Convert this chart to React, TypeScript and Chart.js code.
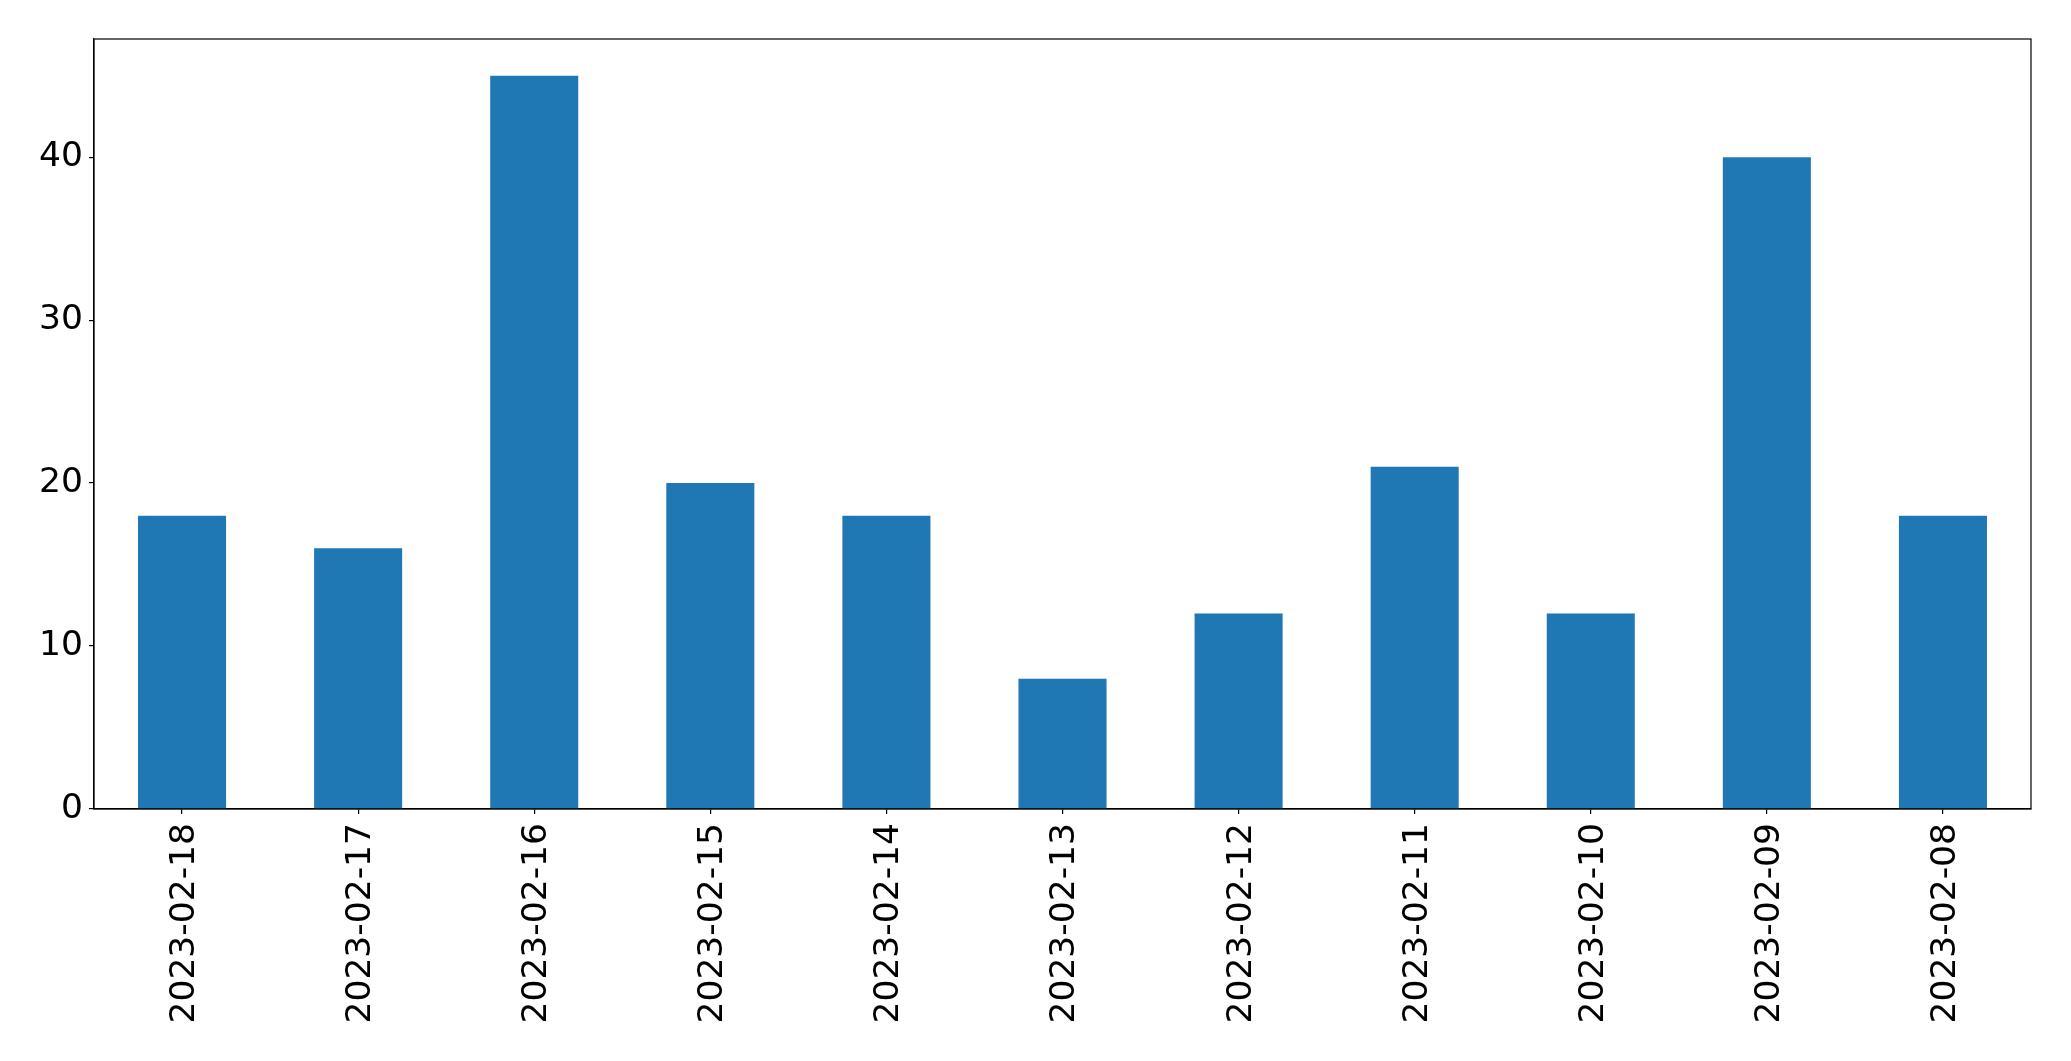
import React, { useEffect, useRef } from "react";
import { Chart, registerables } from "chart.js";

Chart.register(...registerables);

const categories = ["2023-02-18", "2023-02-17", "2023-02-16", "2023-02-15", "2023-02-14", "2023-02-13", "2023-02-12", "2023-02-11", "2023-02-10", "2023-02-09", "2023-02-08"];
const values = [18, 16, 45, 20, 18, 8, 12, 21, 12, 40, 18];
const yTicks = [0, 10, 20, 30, 40];

const W = 2071;
const H = 1061;

const boxPlugin = {
  id: "box",
  afterDraw(chart: any) {
    const { ctx, chartArea } = chart;
    ctx.save();
    ctx.strokeStyle = "#000";
    ctx.lineWidth = 1.2;
    ctx.strokeRect(chartArea.left, chartArea.top, chartArea.right - chartArea.left, chartArea.bottom - chartArea.top);
    ctx.restore();
  },
};

export default function App() {
  const ref = useRef<HTMLCanvasElement | null>(null);
  useEffect(() => {
    const font = { family: "DejaVu Sans", size: 34.5 };
    const chart = new Chart(ref.current!, {
      type: "bar",
      data: {
        labels: categories,
        datasets: [
          {
            data: values,
            backgroundColor: "#1f77b4",
            categoryPercentage: 0.5,
            barPercentage: 1,
          },
        ],
      },
      options: {
        animation: false,
        responsive: false,
        devicePixelRatio: 1,
        layout: { padding: { top: 39, right: 40, left: 0, bottom: 0 } },
        plugins: { legend: { display: false }, tooltip: { enabled: false } },
        scales: {
          x: {
            type: "category",
            offset: true,
            grid: { offset: false, drawOnChartArea: false, drawTicks: true, tickLength: 5, color: "#000", lineWidth: 1.2 },
            border: { display: true, color: "#000", width: 1.2 },
            ticks: { color: "#000", font, minRotation: 90, maxRotation: 90, padding: 9, autoSkip: false, labelOffset: 3 },
            afterFit(scale: any) {
              scale.height = 252;
            },
          },
          y: {
            min: 0,
            max: 47.25,
            afterBuildTicks(scale: any) {
              scale.ticks = yTicks.map((v) => ({ value: v }));
            },
            grid: { drawOnChartArea: false, drawTicks: true, tickLength: 5, color: "#000", lineWidth: 1.2 },
            border: { display: true, color: "#000", width: 1.2 },
            ticks: { color: "#000", font, padding: 6 },
            afterFit(scale: any) {
              scale.width = 94;
            },
          },
        },
      },
      plugins: [boxPlugin],
    } as any);
    return () => chart.destroy();
  }, []);
  return (
    <div style={{ position: "fixed", left: 0, top: 0, width: W, height: H, background: "#fff" }}>
      <canvas ref={ref} width={W} height={H} style={{ width: W, height: H, display: "block" }} />
    </div>
  );
}
